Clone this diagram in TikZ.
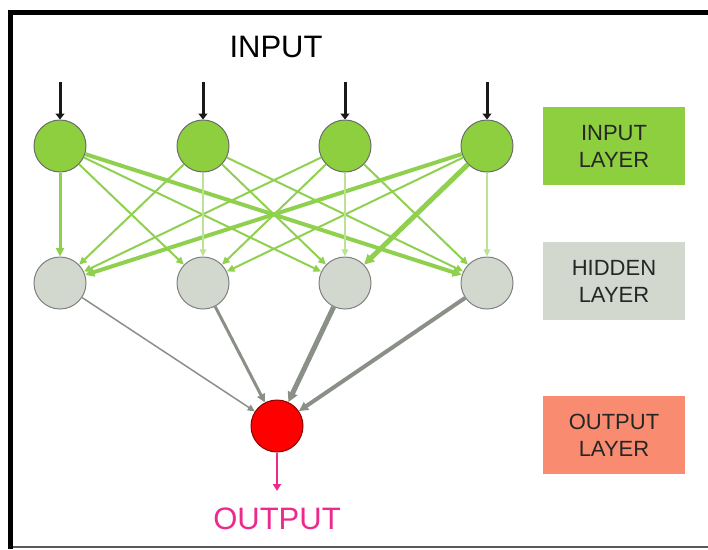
\documentclass[tikz,border=0pt]{standalone}
\usepackage{fontspec}
\setmainfont{Liberation Sans}
\usetikzlibrary{arrows.meta}
\definecolor{leaf}{HTML}{8DCF3F}
\definecolor{leafline}{HTML}{8FD14F}
\definecolor{ash}{HTML}{D2D8CE}
\definecolor{ashline}{HTML}{8A9088}
\definecolor{salmon}{HTML}{F98B70}
\definecolor{pinkout}{HTML}{EC2A8C}
\tikzset{inn/.style={circle,fill=leaf,draw=gray!85!black,line width=1pt,minimum size=52pt,inner sep=0pt},
  hid/.style={circle,fill=ash,draw=gray,line width=1pt,minimum size=52pt,inner sep=0pt},
  outn/.style={circle,fill=red,draw=red!55!black,line width=1pt,minimum size=52pt,inner sep=0pt},
  tag/.style={minimum width=142pt,minimum height=78pt,inner sep=0pt,align=center,
    text=black!85,font=\fontsize{22}{27}\selectfont},
  syn/.style={draw=leafline,-{Triangle[length=6pt 0.8,width=5pt 1]}},
  gsyn/.style={draw=ashline,-{Triangle[length=6pt 0.8,width=5pt 1]}},
  feed/.style={draw=black!90,line width=3pt,-{Triangle[length=6pt,width=9pt]}},
  big/.style={font=\fontsize{31}{36}\selectfont}}

\begin{document}
\begin{tikzpicture}[x=1pt,y=-1pt]
\useasboundingbox (0,0) rectangle (708,549);
% frame, open on the right
\draw[gray!70!black,line width=2pt] (8,547) -- (708,547);
\draw[line width=5pt] (10,10) -- (10,549);
\draw[line width=5pt] (7.5,12.5) -- (708,12.5);
% neurons
\foreach \i/\x in {1/60,2/203,3/345,4/487}{
  \node[inn] (i\i) at (\x,146) {};
  \node[hid] (h\i) at (\x,283) {};
  \coordinate (a\i) at (\x,82);
  \draw[feed] (a\i) -- (i\i);
}
\node[outn] (o) at (277,426) {};
\coordinate (oend) at (277,491);
\draw[pinkout,line width=2.5pt,-{Triangle[length=7pt,width=8pt]}] (o) -- (oend);
% weights input -> hidden
\foreach \a/\b/\w in {1/1/3,1/2/2,1/3/2,1/4/4,2/1/2,2/3/2,2/4/2,
  3/1/2,3/2/2,3/4/2,4/1/4,4/2/2,4/3/5}{
  \draw[syn,line width=\w pt] (i\a) -- (h\b);
}
\foreach \k in {2,3,4}{\draw[syn,draw=leafline!60,line width=1.5pt] (i\k) -- (h\k);}
% weights hidden -> output
\foreach \b/\w in {1/1.5,2/3,3/5,4/4}{\draw[gsyn,line width=\w pt] (h\b) -- (o);}
% labels
\node[big] (intxt) at (276,47) {INPUT};
\node[big,text=pinkout] (outtxt) at (277,519) {OUTPUT};
\node[tag,fill=leaf] (tin) at (614,146) {INPUT\\LAYER};
\node[tag,fill=ash] (thid) at (614,281) {HIDDEN\\LAYER};
\node[tag,fill=salmon] (tout) at (614,435) {OUTPUT\\LAYER};
\end{tikzpicture}
\end{document}
